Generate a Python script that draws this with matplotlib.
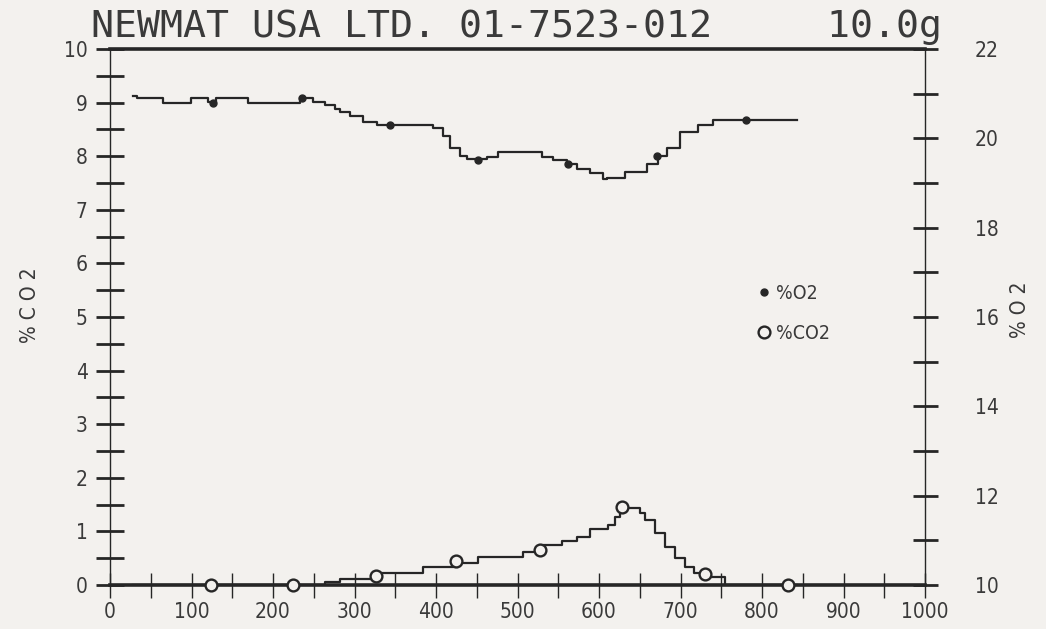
import matplotlib
matplotlib.use('Agg')
import matplotlib.pyplot as plt
from matplotlib.ticker import MultipleLocator
from matplotlib.lines import Line2D
from matplotlib import font_manager

# ---------------- data ----------------
title = "NEWMAT USA LTD. 01-7523-012     10.0g"

# %O2 (right axis) -- staircase trace: start x of each level, level value
o2_x = [28, 33, 65, 100, 120, 130, 169, 233, 249, 264, 276, 282, 294, 310, 328,
        396, 409, 417, 429, 438, 463, 476, 530, 544, 561, 573, 589, 605, 610,
        632, 659, 672, 683, 699, 721, 740, 843]
o2_y = [20.95, 20.90, 20.78, 20.90, 20.82, 20.90, 20.78, 20.90, 20.82, 20.75,
        20.66, 20.59, 20.50, 20.37, 20.30, 20.23, 20.06, 19.79, 19.61, 19.54,
        19.59, 19.70, 19.59, 19.52, 19.43, 19.32, 19.23, 19.10, 19.12, 19.25,
        19.43, 19.61, 19.79, 20.14, 20.30, 20.41, 20.41]
o2_mark_x = [126, 236, 344, 452, 562, 671, 780]
o2_mark_y = [20.80, 20.90, 20.30, 19.52, 19.43, 19.61, 20.41]

# %CO2 (left axis)
co2_x = [28, 264, 282, 331, 384, 427, 452, 507, 531, 555, 573, 589, 611, 620,
         626, 650, 657, 669, 681, 693, 706, 716, 733, 755, 843]
co2_y = [0.0, 0.06, 0.11, 0.22, 0.34, 0.41, 0.52, 0.62, 0.75, 0.82, 0.90, 1.04,
         1.12, 1.27, 1.44, 1.34, 1.21, 0.97, 0.71, 0.50, 0.34, 0.22, 0.15, 0.0, 0.0]
co2_mark_x = [124, 224, 326, 424, 527, 628, 730, 832]
co2_mark_y = [0.0, 0.0, 0.17, 0.45, 0.65, 1.46, 0.20, 0.0]

legend_labels = ['%O2', '%CO2']
left_label = '% C O 2'
right_label = '% O 2'

# ---------------- style ----------------
names = {f.name for f in font_manager.fontManager.ttflist}
narrow = 'Liberation Sans Narrow' if 'Liberation Sans Narrow' in names else 'DejaVu Sans'
plt.rcParams['font.family'] = [narrow, 'DejaVu Sans']
plt.rcParams['font.stretch'] = 'condensed'

bg = '#f3f1ee'
ink = '#262626'
txt = '#3a3a3a'

W, H = 1046, 629
fig = plt.figure(figsize=(W / 100, H / 100), dpi=100)
fig.patch.set_facecolor(bg)
ax = fig.add_axes([110 / W, 44 / H, 815 / W, 536 / H])
ax.set_facecolor(bg)
ax2 = ax.twinx()

ax.set_xlim(0, 1000)
ax.set_ylim(0, 10)
ax2.set_ylim(10, 22)

# traces
ax.plot(co2_x, co2_y, drawstyle='steps-post', color=ink, lw=1.6, zorder=4)
ax.plot(co2_mark_x, co2_mark_y, ls='none', marker='o', ms=8.5, mfc=bg,
        mec=ink, mew=1.7, zorder=6, clip_on=False)
ax2.plot(o2_x, o2_y, drawstyle='steps-post', color=ink, lw=1.6, zorder=4)
ax2.plot(o2_mark_x, o2_mark_y, ls='none', marker='o', ms=5, color=ink, zorder=6)

# spines
for s in ['left', 'right', 'top', 'bottom']:
    ax2.spines[s].set_visible(s == 'right')
ax.spines['right'].set_visible(False)
ax.spines['top'].set_linewidth(2.6)
ax.spines['bottom'].set_linewidth(2.6)
ax.spines['left'].set_linewidth(1.0)
ax2.spines['right'].set_linewidth(1.0)
for a in (ax, ax2):
    for s in a.spines.values():
        s.set_color(ink)

# ticks
ax.xaxis.set_major_locator(MultipleLocator(100))
ax.xaxis.set_minor_locator(MultipleLocator(50))
ax.tick_params(axis='x', which='both', direction='inout', length=18, width=1.0,
               color=ink, pad=3, labelsize=15, labelcolor=txt)
ax.yaxis.set_major_locator(MultipleLocator(1))
ax.yaxis.set_minor_locator(MultipleLocator(0.5))
ax.tick_params(axis='y', which='both', direction='inout', length=20, width=2.0,
               color=ink, pad=6, labelsize=15, labelcolor=txt)
ax2.yaxis.set_major_locator(MultipleLocator(2))
ax2.yaxis.set_minor_locator(MultipleLocator(1))
ax2.tick_params(axis='y', which='both', direction='inout', length=18, width=2.0,
                color=ink, pad=27, labelsize=15, labelcolor=txt)

# axis labels
fig.text(30 / W, 1 - 305 / H, left_label, rotation=90, ha='center', va='center',
         fontsize=15, color=txt)
fig.text(1020 / W, 1 - 310 / H, right_label, rotation=90, ha='center', va='center',
         fontsize=15, color=txt)

# title
fig.text(91 / W, 1 - 37 / H, title, family='DejaVu Sans Mono', fontsize=27.5,
         ha='left', va='baseline', color=txt)

# legend
handles = [Line2D([], [], ls='none', marker='o', ms=5, color=ink),
           Line2D([], [], ls='none', marker='o', ms=8.5, mfc=bg, mec=ink, mew=1.7)]
ax2.legend(handles, legend_labels, loc='upper left', bbox_to_anchor=(0.782, 0.58),
           frameon=False, handlelength=0.7, handletextpad=0.3, labelspacing=1.1,
           borderpad=0, fontsize=14, labelcolor=txt)

fig.savefig('out.png', dpi=100, facecolor=bg)
